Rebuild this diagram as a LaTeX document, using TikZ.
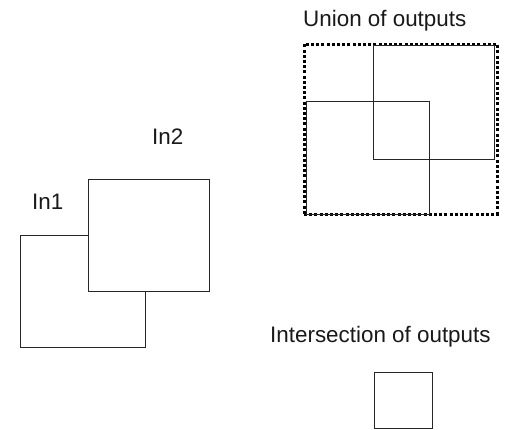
\documentclass[tikz,border=0pt]{standalone}
\usepackage{fontspec}
\setmainfont{Liberation Sans}
\begin{document}
\begin{tikzpicture}[x=1pt,y=-1pt,
  lbl/.style={anchor=base west,inner sep=0pt,font=\fontsize{22.4}{26}\selectfont,text=black!90},
  sq/.style={draw=black!85,line width=1pt,inner sep=0pt,outer sep=0pt},
  dotbox/.style={draw=black,line width=3pt,dash pattern=on 3pt off 2.2pt,inner sep=0pt,outer sep=0pt}]
\useasboundingbox (0,0) rectangle (508,429);
\node[lbl] (union) at (303,26) {Union of outputs};
\node[lbl] (in2) at (152,144) {In2};
\node[lbl] (in1) at (32,209) {In1};
\node[lbl] (inter) at (270,342) {Intersection of outputs};
\node[sq,minimum width=125pt,minimum height=112pt] (sq1) at (82.5,291) {};
\node[sq,fill=white,minimum width=121pt,minimum height=112pt] (sq2) at (148.5,235) {};
\node[dotbox,minimum width=193pt,minimum height=170pt] (ubox) at (400.5,129) {};
\node[sq,minimum width=121pt,minimum height=114pt] (out2) at (433.5,102) {};
\node[sq,minimum width=123pt,minimum height=113pt] (out1) at (367.5,157.5) {};
\node[sq,minimum width=58pt,minimum height=56pt] (isect) at (403,400) {};
\end{tikzpicture}
\end{document}
